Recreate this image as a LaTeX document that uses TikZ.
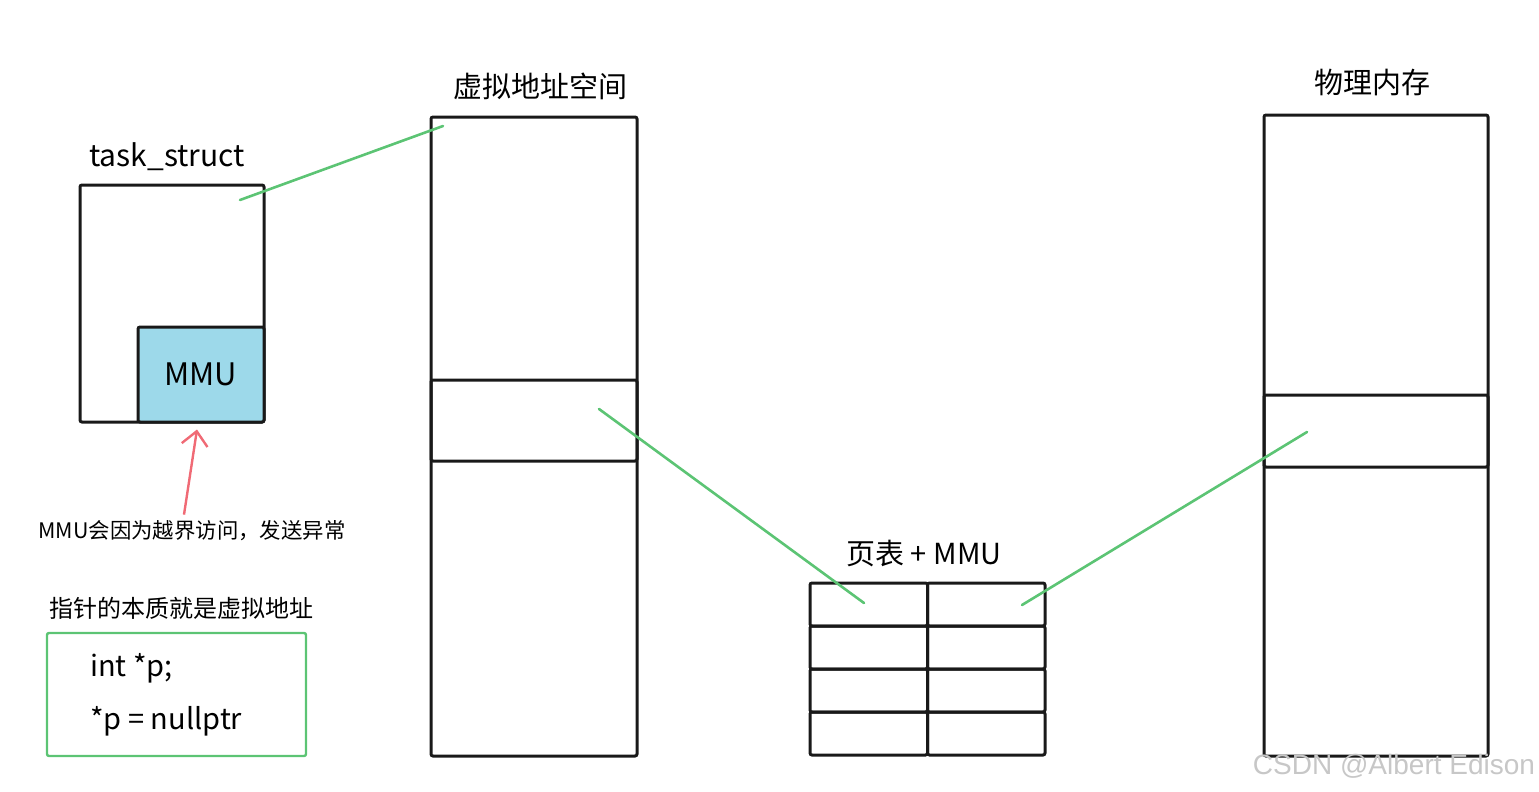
\documentclass[tikz,border=0pt]{standalone}
\usepackage{fontspec}
\setmainfont{Noto Sans CJK SC}
\newfontfamily\markfont{Liberation Sans}
\usepackage{xcolor}
\usetikzlibrary{arrows.meta,positioning}

\definecolor{linkgreen}{HTML}{5CC474}
\definecolor{mmublue}{HTML}{9DD9EA}
\definecolor{warnred}{HTML}{F06A75}

\tikzset{
  box/.style={draw=black!90, line width=3pt, rounded corners=2pt, inner sep=0pt},
  link/.style={draw=linkgreen, line width=2.6pt, line cap=round},
  title/.style={font=\fontsize{29}{34}\selectfont, inner sep=0pt},
  label/.style={font=\fontsize{30}{34}\selectfont, inner sep=0pt},
  codeline/.style={font=\fontsize{29}{33}\selectfont, inner sep=0pt, anchor=west}
}

\begin{document}
\begin{tikzpicture}[x=1pt,y=-1pt,>=latex]
  \useasboundingbox (0,0) rectangle (1539,792);

  % task_struct with its MMU
  \node[label] (tasktitle) at (167,157) {task\_struct};
  \node[box, minimum width=184pt, minimum height=237pt] (task) at (172,303.5) {};
  \node[box, fill=mmublue, minimum width=126pt, minimum height=95pt,
        font=\fontsize{31}{35}\selectfont] (mmu) at (201,374.5) {MMU};

  % exception note
  \node[font=\fontsize{21.4}{24}\selectfont, inner sep=0pt] (err) at (192,531) {MMU会因为越界访问，发送异常};
  \draw[draw=warnred, line width=2.4pt, -{Straight Barb[length=14pt,width=26pt]}]
    ([xshift=-8pt,yshift=6pt]err.north) -- ([xshift=-4pt,yshift=-6pt]mmu.south);

  % pointer code
  \node[font=\fontsize{24}{28}\selectfont, inner sep=0pt] (note) at (181,608) {指针的本质就是虚拟地址};
  \node[draw=linkgreen, line width=2.4pt, rounded corners=2pt,
        minimum width=259pt, minimum height=123pt] (code) at (176.5,694.5) {};
  \node[codeline] (decl) at (90,668) {int *p;};
  \node[codeline] (assign) at (90,721) {*p = nullptr};

  % virtual address space
  \node[title] (vtitle) at (540,86) {虚拟地址空间};
  \node[box, minimum width=206pt, minimum height=639pt] (vspace) at (534,436.5) {};
  \node[box, minimum width=206pt, minimum height=81pt] (vpage) at (534,420.5) {};

  % page table
  \node[title] (pttitle) at (924,554) {页表 + MMU};
  \foreach \r in {1,...,4}
    \foreach \c in {1,2}
      \node[box, minimum width=117.5pt, minimum height=43pt]
        (pt-\r-\c) at ({810+117.5*(\c-0.5)},{583+43*(\r-0.5)}) {};

  % physical memory
  \node[title] (ptitle) at (1372,83) {物理内存};
  \node[box, minimum width=224pt, minimum height=641pt] (pmem) at (1376,435.5) {};
  \node[box, minimum width=224pt, minimum height=72pt] (pframe) at (1376,431) {};

  % links
  \coordinate (task-ptr) at (240,200);
  \coordinate (vspace-top) at (443,126);
  \coordinate (vpage-ptr) at (599,409);
  \coordinate (pt-in) at (864,603);
  \coordinate (pt-out) at (1022,605);
  \coordinate (pframe-ptr) at (1307,432);
  \draw[link] (task-ptr) -- (vspace-top);
  \draw[link] (vpage-ptr) -- (pt-in);
  \draw[link] (pt-out) -- (pframe-ptr);

  % watermark
  \node[font=\markfont\fontsize{28}{32}\selectfont, text=black!22, inner sep=0pt] (mark) at (1394,766) {CSDN @Albert Edison};

\end{tikzpicture}
\end{document}
